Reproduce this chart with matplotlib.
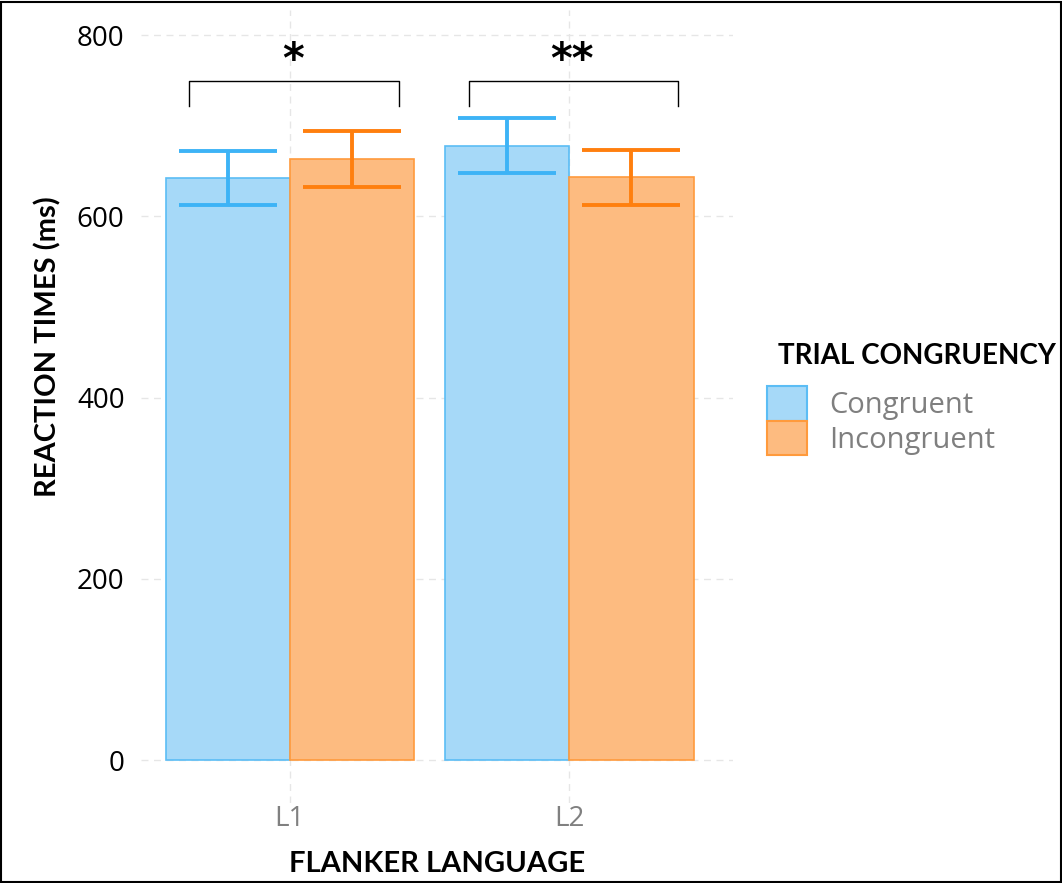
import numpy as np
import matplotlib
matplotlib.use("Agg")
from matplotlib import pyplot as plt
from matplotlib.patches import Patch, Rectangle

# data
languages = ["L1", "L2"]
conditions = ["Congruent", "Incongruent"]
congruent_rt = [642, 678]
incongruent_rt = [663, 643]
congruent_err = [30, 30]
incongruent_err = [31, 30]
signif = ["*", "**"]
bracket_y = 749
bracket_leg = 722
star_y = 771

fill_cols = ["#a6d9f8", "#fdbb80"]
edge_cols = ["#5bbdf5", "#ff9a3c"]
err_cols = ["#3db3f6", "#ff7f0e"]

fig = plt.figure(figsize=(10.62, 8.83), dpi=100)
ax = fig.add_axes([0.133, 0.091, 0.557, 0.898])

x = np.arange(1, len(languages) + 1)
w = 0.445
for i, (vals, errs) in enumerate([(congruent_rt, congruent_err), (incongruent_rt, incongruent_err)]):
    xpos = x + (i - 0.5) * w
    ax.bar(xpos, vals, width=w, color=fill_cols[i], edgecolor=edge_cols[i], linewidth=1.2, zorder=2)
    ax.errorbar(xpos, vals, yerr=errs, fmt="none", ecolor=err_cols[i], elinewidth=2.8,
                capsize=35, capthick=2.8, zorder=3)

# significance brackets
for xi, s in zip(x, signif):
    left, right = xi - 0.36, xi + 0.39
    ax.plot([left, left, right, right], [bracket_leg, bracket_y, bracket_y, bracket_leg],
            color="black", linewidth=1.0, zorder=3)
    ax.text(xi + 0.01, star_y, s, ha="center", va="center", fontsize=30,
            fontweight="bold", family="DejaVu Sans")

ax.set_xlim(0.468, 2.585)
ax.set_ylim(-47, 828)
ax.set_xticks(x)
ax.set_xticklabels(languages)
ax.set_yticks([0, 200, 400, 600, 800])
ax.tick_params(axis="y", length=0, pad=12)
ax.tick_params(axis="x", length=0, pad=2)
for lbl in ax.get_yticklabels():
    lbl.set_fontsize(20)
    lbl.set_family("Open Sans")
    lbl.set_color("black")
for lbl in ax.get_xticklabels():
    lbl.set_fontsize(20)
    lbl.set_family("Open Sans")
    lbl.set_color("#808080")
ax.grid(True, linestyle=(0, (5, 4)), color="#e6e6e6", linewidth=1.0, zorder=0)
ax.set_axisbelow(True)
for sp in ax.spines.values():
    sp.set_visible(False)

ax.set_ylabel("REACTION TIMES (ms)", fontsize=21, fontweight="bold", family="Lato", va="center")
ax.set_xlabel("FLANKER LANGUAGE", fontsize=21, fontweight="bold", family="Lato", va="center")
ax.yaxis.set_label_coords(-0.158, 0.575)
ax.xaxis.set_label_coords(0.5, -0.077)

# legend: title placed separately so it sits a little right of the keys
fig.text(778 / 1062, 1 - 356 / 883, "TRIAL CONGRUENCY", fontsize=20, fontweight="bold",
         family="Lato", ha="left", va="center")
handles = [Patch(facecolor=fill_cols[i], edgecolor=edge_cols[i], linewidth=1.5) for i in range(2)]
leg = fig.legend(handles, conditions, loc="upper left", bbox_to_anchor=(767 / 1062, 1 - 386 / 883),
                 frameon=False, fontsize=21, borderpad=0, borderaxespad=0,
                 handlelength=1.38, handleheight=1.45, labelspacing=0.0, handletextpad=0.75)
for t in leg.get_texts():
    t.set_color("#7f7f7f")
    t.set_family("Open Sans")

# outer frame
fig.patches.append(Rectangle((0.001, 0.001), 0.998, 0.997, transform=fig.transFigure,
                             fill=False, edgecolor="black", linewidth=1.5))

fig.savefig("out.png", dpi=100)
